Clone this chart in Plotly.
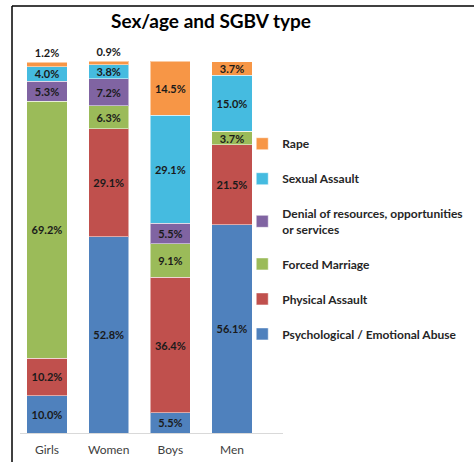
import plotly.graph_objects as go

# data (percent of cases per group)
groups = ['Girls', 'Women', 'Boys', 'Men']
psych = [10.0, 52.8, 5.5, 56.1]
physical = [10.2, 29.1, 36.4, 21.5]
forced = [69.2, 6.3, 9.1, 3.7]
denial = [5.3, 7.2, 5.5, 0.0]
sexual = [4.0, 3.8, 29.1, 15.0]
rape = [1.2, 0.9, 14.5, 3.7]

series = [
    ('Psychological / Emotional Abuse', psych, '#4F81BD'),
    ('Physical Assault', physical, '#C0504D'),
    ('Forced Marriage', forced, '#9BBB59'),
    ('Denial of resources, opportunities<br>or services', denial, '#8064A2'),
    ('Sexual Assault', sexual, '#45BBE0'),
    ('Rape', rape, '#F79646'),
]

fig = go.Figure()
for i, (name, vals, col) in enumerate(series):
    labels = [f'{v:.1f}%' if v > 0 else '' for v in vals]
    if name == 'Rape':
        pos = ['outside' if v < 2 else 'inside' for v in vals]
    else:
        pos = 'inside'
    fig.add_trace(go.Bar(
        x=groups, y=vals, name=name, legendgroup=name,
        legendrank=len(series) - i,
        marker=dict(color=col, line=dict(color='rgba(255,255,255,0.5)', width=1)),
        text=labels, textposition=pos, insidetextanchor='middle',
        constraintext='none', cliponaxis=False,
        textfont=dict(family='Lato', size=11, color='#1a1a1a', weight='bold'),
        outsidetextfont=dict(family='Lato', size=11, color='#1a1a1a', weight='bold'),
        hoverinfo='skip',
    ))

# frame lines (top and left edge of the original chart box)
fig.add_shape(type='line', xref='paper', yref='paper', x0=-0.0304, x1=1.75,
              y0=1.148, y1=1.148, line=dict(color='black', width=1.5))
fig.add_shape(type='line', xref='paper', yref='paper', x0=-0.0304, x1=-0.0304,
              y0=1.148, y1=-0.1, line=dict(color='black', width=1.5))

fig.update_layout(
    width=474, height=462,
    margin=dict(l=20, r=191, t=61, b=29, autoexpand=False),
    barmode='stack', bargap=0.35,
    plot_bgcolor='white', paper_bgcolor='white',
    title=dict(text='<b>Sex/age and SGBV type</b>', x=211 / 474, xref='container',
               xanchor='center', y=1 - 21 / 462, yref='container', yanchor='middle',
               font=dict(family='Lato', size=19, color='black')),
    legend=dict(x=0.845, y=0.8166, xanchor='left', yanchor='top',
                traceorder='grouped', tracegroupgap=16,
                bgcolor='rgba(0,0,0,0)',
                font=dict(family='Lato', size=12, color='#262626', weight='bold')),
    xaxis=dict(range=[-0.4376, 3.827], showline=True, linecolor='#d9d9d9', linewidth=1,
               ticks='', ticklabelstandoff=6,
               tickfont=dict(family='Lato', size=12, color='#404040')),
    yaxis=dict(range=[0, 100.2], visible=False),
)

# drop the default 8px body margin so the figure fills the window exactly
fig.write_html('out.html', config={'displayModeBar': False},
               post_script="document.body.style.margin='0';")
